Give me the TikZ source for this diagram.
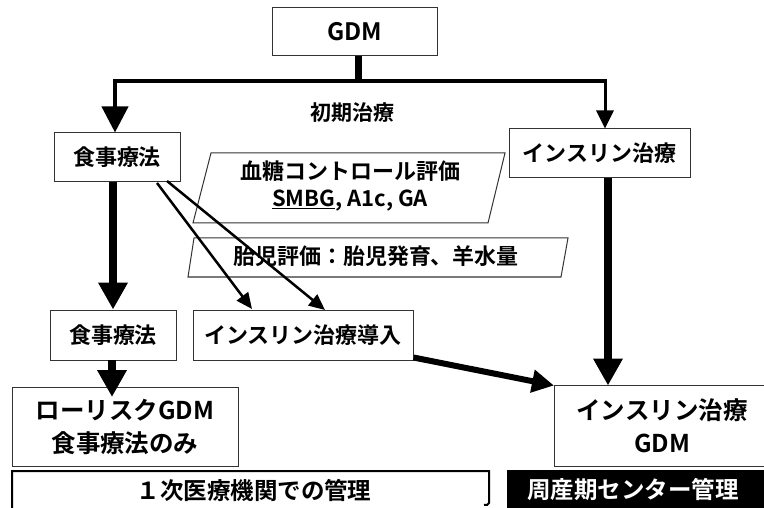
\documentclass[tikz,border=0pt]{standalone}
\usepackage{fontspec}
\setmainfont{Noto Sans CJK JP}[BoldFont={Noto Sans CJK JP Bold}]
\usetikzlibrary{arrows.meta}
\begin{document}
\begin{tikzpicture}[x=1pt,y=-1pt,
  box/.style={draw=black!80,line width=1pt,rectangle,inner sep=0pt,font=\bfseries\fontsize{22}{26}\selectfont},
  bigbox/.style={box,font=\bfseries\fontsize{24.5}{33}\selectfont,align=center},
  fatarrow/.style={line width=8pt,-{Triangle[width=28pt,length=27pt]}},
  midarrow/.style={line width=6pt,-{Triangle[width=22pt,length=22pt]}},
  thinarrow/.style={line width=2.5pt,-{Triangle[width=14pt,length=16pt]}},
  lbl/.style={font=\bfseries\fontsize{21}{25}\selectfont,inner sep=0pt,align=center},
  para/.style={draw=black!80,line width=1pt,fill=white}]
\useasboundingbox (0,0) rectangle (764,508);

% nodes
\node[box,minimum width=165pt,minimum height=48pt,font=\bfseries\fontsize{24}{28}\selectfont] (gdm) at (354.5,32) {GDM};
\node[box,minimum width=126pt,minimum height=49pt] (diet1) at (117,157.5) {食事療法};
\node[box,minimum width=181pt,minimum height=49pt] (ins1) at (599.5,153.5) {インスリン治療};
\node[box,minimum width=126pt,minimum height=50pt] (diet2) at (113,335) {食事療法};
\node[box,minimum width=220pt,minimum height=50pt] (insintro) at (303,335) {インスリン治療導入};
\node[bigbox,minimum width=226pt,minimum height=79pt] (lowrisk) at (125,426.5) {ローリスクGDM\\食事療法のみ};
\node[bigbox,draw=none,minimum width=215pt,minimum height=80pt] (insgdm) at (662,426) {インスリン治療\\GDM};
\draw[black!80,line width=1pt] (insgdm.north east) -- (insgdm.north west) -- (insgdm.south west) -- (insgdm.south east);

\node[lbl] (init) at (352,113) {初期治療};

% parallelograms
\draw[para] (211,153) -- (505,153) -- (488,223) -- (193,223) -- cycle;
\node[lbl,font=\bfseries\fontsize{22}{27}\selectfont] (bg) at (350,186) {血糖コントロール評価\\\underline{SMBG}, A1c, GA};
\draw[para] (194,238) -- (568,238) -- (561,277) -- (188,277) -- cycle;
\node[lbl,font=\bfseries\fontsize{22}{25}\selectfont] (fe) at (376,256) {胎児評価：胎児発育、羊水量};

% top connectors
\coordinate (j) at (358,81);
\coordinate (jl) at (115,81);
\coordinate (jr) at (605,81);
\draw[line width=7pt] (gdm.south) ++(3.5,0) -- (j);
\draw[line width=3.5pt,line cap=rect] (jl) -- (jr);
\draw[line width=4pt,-{Triangle[width=26pt,length=26pt]}] (jl) -- (jl |- diet1.north);
\draw[line width=3pt,-{Triangle[width=17pt,length=18pt]}] (jr) -- (jr |- ins1.north);

% vertical fat arrows
\coordinate (d1b) at (113,182);
\draw[fatarrow] (d1b) -- (d1b |- diet2.north);
\coordinate (d2b) at (112,360);
\coordinate (lrt) at (112,397);
\draw[fatarrow] (d2b) -- (lrt);
\coordinate (i1b) at (608,178);
\draw[fatarrow] (i1b) -- (i1b |- insgdm.north);

% thin diagonal arrows
\coordinate (s1) at (157,183);
\coordinate (t1) at (252,309);
\coordinate (s2) at (167,181);
\coordinate (t2) at (325,310);
\draw[thinarrow] (s1) -- (t1);
\draw[thinarrow] (s2) -- (t2);

% intro -> insulin GDM
\draw[midarrow] (insintro.south east) ++(0,-3) -- (insgdm.north west);

% bottom bars
\coordinate (b1) at (12,508);
\coordinate (b2) at (12,471);
\coordinate (b3) at (489,471);
\coordinate (b4) at (489,503);
\coordinate (b5) at (484,505);
\draw[line width=2pt] (b1) -- (b2) -- (b3) -- (b4) to[out=-90,in=0] (b5);
\node[lbl,font=\bfseries\fontsize{23.5}{26}\selectfont] (prim) at (254,490) {１次医療機関での管理};
\fill[black] (507,470) rectangle (764,508);
\node[lbl,font=\bfseries\fontsize{23.5}{26}\selectfont,text=white] (peri) at (633,490) {周産期センター管理};
\end{tikzpicture}
\end{document}
